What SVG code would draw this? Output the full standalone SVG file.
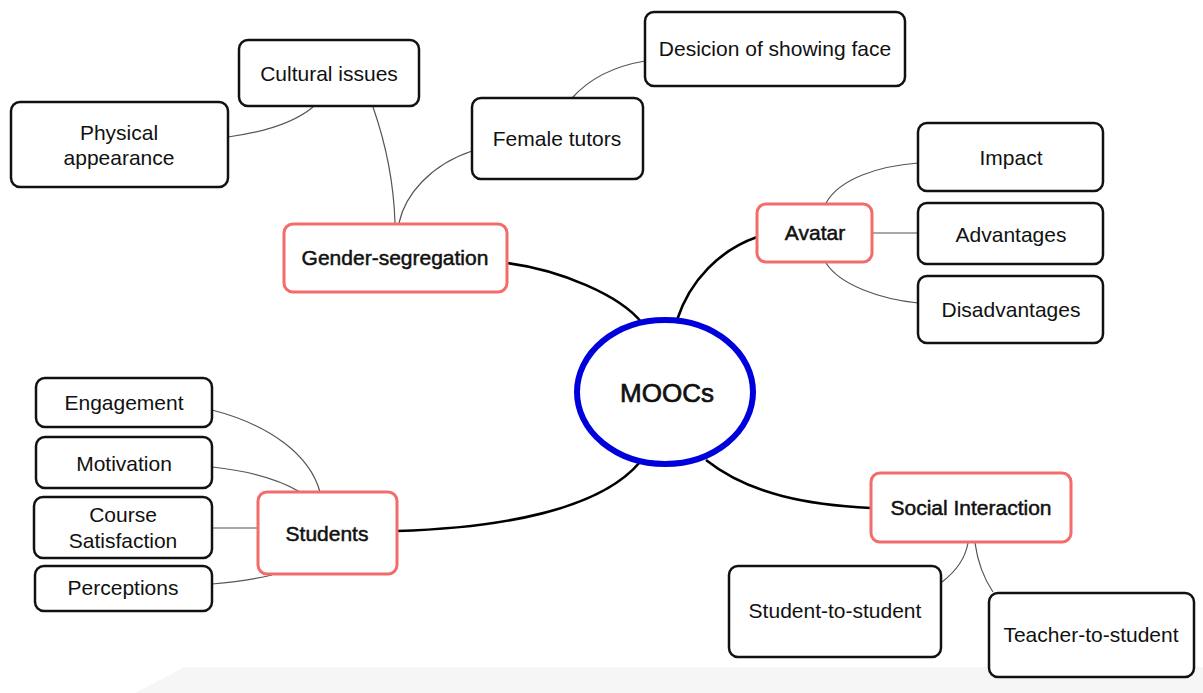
<svg xmlns="http://www.w3.org/2000/svg" width="1203" height="693" viewBox="0 0 1203 693">
  <style>
    .box { fill: #fff; stroke: #111; stroke-width: 2.5; }
    .topic { fill: #fff; stroke: #f36b6b; stroke-width: 3; }
    .hub { fill: #fff; stroke: #0000dd; stroke-width: 6; }
    .lbl { font-family: "Liberation Sans", Arial, sans-serif; font-size: 21px; fill: #111; text-anchor: middle; }
    .tlbl { font-family: "Liberation Sans", Arial, sans-serif; font-size: 21px; fill: #111; text-anchor: middle; stroke: #111; stroke-width: 0.5; }
    .hlbl { font-family: "Liberation Sans", Arial, sans-serif; font-size: 26px; fill: #111; text-anchor: middle; stroke: #111; stroke-width: 0.7; }
    .thin { fill: none; stroke: #555; stroke-width: 1.2; }
    .thick { fill: none; stroke: #000; stroke-width: 2.6; }
  </style>

  <rect width="1203" height="693" fill="#fff"/>
  <!-- light strip along the bottom edge -->
  <polygon points="135,693 185,667 1203,667 1203,693" fill="#f6f6f6"/>

  <g id="connectors">
    <path class="thin" d="M228,137 C265,132 295,122 313,107"/>
    <path class="thin" d="M373,107 C388,150 394,190 395,223"/>
    <path class="thin" d="M472,151 C430,165 405,195 399,223"/>
    <path class="thin" d="M572,98 C590,78 615,66 645,61"/>
    <path class="thin" d="M826,203 C840,178 880,166 918,163"/>
    <path class="thin" d="M873,233 L918,233"/>
    <path class="thin" d="M826,263 C840,285 880,299 918,303"/>
    <path class="thin" d="M212,410 C270,425 310,455 320,492"/>
    <path class="thin" d="M212,467 C250,471 280,480 300,492"/>
    <path class="thin" d="M212,528 L258,528"/>
    <path class="thin" d="M212,584 C235,582 255,579 272,575"/>
    <path class="thin" d="M968,543 C965,560 955,572 942,582"/>
    <path class="thin" d="M975,543 C978,565 985,580 993,592"/>

    <path class="thick" d="M507,263 C560,270 620,295 642,323"/>
    <path class="thick" d="M757,237 C720,250 690,280 677,320"/>
    <path class="thick" d="M640,462 C600,510 500,528 397,531"/>
    <path class="thick" d="M706,460 C750,495 810,505 871,508"/>
  </g>

  <g id="moocs">
    <ellipse class="hub" cx="665" cy="392" rx="88" ry="72"/>
    <text class="hlbl" x="667" y="402">MOOCs</text>
  </g>

  <g id="gender-segregation">
    <rect class="topic" x="284" y="224" width="223" height="68" rx="9"/>
    <text class="tlbl" x="395" y="265">Gender-segregation</text>
  </g>
  <g id="cultural-issues">
    <rect class="box" x="239" y="40" width="180" height="66" rx="9"/>
    <text class="lbl" x="329" y="81">Cultural issues</text>
  </g>
  <g id="physical-appearance">
    <rect class="box" x="11" y="102" width="217" height="85" rx="9"/>
    <text class="lbl" x="119" y="140">Physical</text>
    <text class="lbl" x="119" y="165">appearance</text>
  </g>
  <g id="female-tutors">
    <rect class="box" x="472" y="98" width="171" height="81" rx="9"/>
    <text class="lbl" x="557" y="146">Female tutors</text>
  </g>
  <g id="showing-face">
    <rect class="box" x="645" y="12" width="260" height="74" rx="9"/>
    <text class="lbl" x="775" y="56">Desicion of showing face</text>
  </g>

  <g id="avatar">
    <rect class="topic" x="757" y="204" width="115" height="58" rx="9"/>
    <text class="tlbl" x="815" y="240">Avatar</text>
  </g>
  <g id="impact">
    <rect class="box" x="918" y="123" width="185" height="68" rx="9"/>
    <text class="lbl" x="1011" y="165">Impact</text>
  </g>
  <g id="advantages">
    <rect class="box" x="918" y="203" width="185" height="61" rx="9"/>
    <text class="lbl" x="1011" y="242">Advantages</text>
  </g>
  <g id="disadvantages">
    <rect class="box" x="918" y="276" width="185" height="67" rx="9"/>
    <text class="lbl" x="1011" y="317">Disadvantages</text>
  </g>

  <g id="students">
    <rect class="topic" x="258" y="492" width="139" height="82" rx="9"/>
    <text class="tlbl" x="327" y="541">Students</text>
  </g>
  <g id="engagement">
    <rect class="box" x="36" y="378" width="176" height="49" rx="9"/>
    <text class="lbl" x="124" y="410">Engagement</text>
  </g>
  <g id="motivation">
    <rect class="box" x="36" y="437" width="176" height="51" rx="9"/>
    <text class="lbl" x="124" y="471">Motivation</text>
  </g>
  <g id="course-satisfaction">
    <rect class="box" x="34" y="497" width="178" height="61" rx="9"/>
    <text class="lbl" x="123" y="522">Course</text>
    <text class="lbl" x="123" y="548">Satisfaction</text>
  </g>
  <g id="perceptions">
    <rect class="box" x="35" y="566" width="177" height="45" rx="9"/>
    <text class="lbl" x="123" y="595">Perceptions</text>
  </g>

  <g id="social-interaction">
    <rect class="topic" x="871" y="473" width="200" height="69" rx="9"/>
    <text class="tlbl" x="971" y="515">Social Interaction</text>
  </g>
  <g id="student-to-student">
    <rect class="box" x="729" y="566" width="212" height="91" rx="9"/>
    <text class="lbl" x="835" y="618">Student-to-student</text>
  </g>
  <g id="teacher-to-student">
    <rect class="box" x="989" y="593" width="205" height="84" rx="9"/>
    <text class="lbl" x="1091" y="642">Teacher-to-student</text>
  </g>
</svg>
